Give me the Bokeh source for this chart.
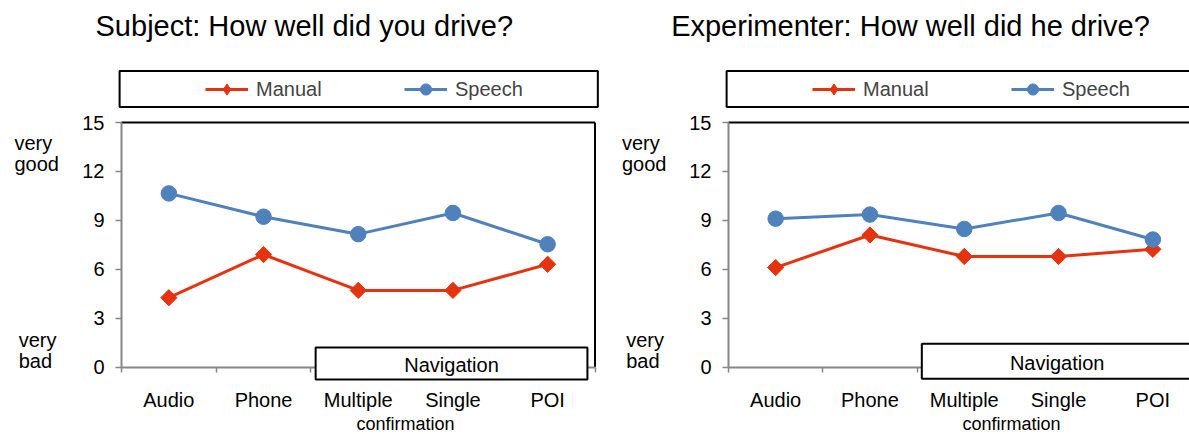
import math
from bokeh.plotting import figure
from bokeh.layouts import row
from bokeh.models import (ColumnDataSource, Range1d, LinearAxis, FixedTicker,
                          CustomJSTickFormatter, Legend, LegendItem)
from bokeh.core.properties import value
from bokeh.embed import file_html
from bokeh.resources import INLINE

# ---------------- data ----------------
categories = ["Audio", "Phone", "Multiple", "Single", "POI"]
series_names = ["Manual", "Speech"]
titles = ["Subject: How well did you drive?", "Experimenter: How well did he drive?"]
subject_manual = [4.25, 6.9, 4.7, 4.7, 6.3]
subject_speech = [10.65, 9.22, 8.15, 9.45, 7.53]
experimenter_manual = [6.1, 8.1, 6.78, 6.78, 7.22]
experimenter_speech = [9.1, 9.35, 8.47, 9.45, 7.82]
y_ticks = [0, 3, 6, 9, 12, 15]
scale_top_words = ["very", "good"]
scale_bottom_words = ["very", "bad"]
group_label = "Navigation"
sub_label = "confirmation"

# ---------------- style ----------------
FONT = "Liberation Sans"
RED = "#E5330F"
BLUE = "#4F81BD"
GREY = "#868686"
Y_MAX = 15
H = 434
ZERO_PX = 366.5      # canvas y of value 0
PPY = 16.3           # pixels per y unit
LEG_H = 28


def make_panel(title, manual, speech, axis_px, ppu, width, nav_y, legend_x):
    n = len(categories)
    p = figure(width=width, height=H,
               x_range=Range1d(-axis_px / ppu, (width - axis_px) / ppu),
               y_range=Range1d(-(H - ZERO_PX) / PPY, ZERO_PX / PPY),
               x_axis_location=None, y_axis_location=None,
               toolbar_location=None, output_backend="svg", min_border=0,
               outline_line_color=None, background_fill_color="white",
               border_fill_color="white")
    p.title.visible = False
    for g in p.grid:
        g.visible = False

    # axes
    yaxis = LinearAxis(fixed_location=0, bounds=(0, Y_MAX),
                       ticker=FixedTicker(ticks=y_ticks, minor_ticks=[]),
                       axis_line_color=GREY, axis_line_width=2,
                       major_tick_line_color=GREY, major_tick_line_width=1.5,
                       major_tick_out=6, major_tick_in=0,
                       minor_tick_line_color=None,
                       major_label_standoff=11,
                       major_label_text_font=FONT,
                       major_label_text_font_size="20px",
                       major_label_text_color="black")
    p.add_layout(yaxis, "left")

    centers = [i + 0.5 for i in range(n)]
    xaxis = LinearAxis(fixed_location=0, bounds=(0, n),
                       ticker=FixedTicker(ticks=centers, minor_ticks=list(range(n + 1))),
                       formatter=CustomJSTickFormatter(args=dict(labels=categories),
                                                       code="return labels[Math.floor(tick)] || ''"),
                       axis_line_color=GREY, axis_line_width=2,
                       major_tick_line_color=None, major_tick_out=0, major_tick_in=0,
                       minor_tick_line_color=GREY, minor_tick_line_width=1.5,
                       minor_tick_out=5, minor_tick_in=0,
                       major_label_standoff=17,
                       major_label_text_font=FONT,
                       major_label_text_font_size="20px",
                       major_label_text_color="black")
    p.add_layout(xaxis, "below")

    # frame top / right border
    p.segment(x0=[0, n], y0=[Y_MAX, 0], x1=[n, n], y1=[Y_MAX, Y_MAX],
              line_color="black", line_width=2)

    # legend box
    p.quad(left=[-0.02], right=[5.03], top=[18.16], bottom=[15.95],
           fill_color="white", line_color="black", line_width=2)

    # data
    src = ColumnDataSource(dict(x=centers, manual=manual, speech=speech))
    lm = p.line("x", "manual", source=src, line_color=RED, line_width=3)
    # diamond key for the legend (legend keys are drawn unrotated); it sits
    # hidden under the rotated squares below
    key_manual = p.scatter("x", "manual", source=src, marker="diamond", size=10,
                           fill_color=RED, line_color=RED)
    p.scatter("x", "manual", source=src, marker="square", angle=math.pi / 4,
              size=11.5, fill_color=RED, line_color=RED)
    ls = p.line("x", "speech", source=src, line_color=BLUE, line_width=3)
    ss = p.scatter("x", "speech", source=src, marker="circle", size=15.5,
                   fill_color=BLUE, line_color=BLUE)

    legend = Legend(items=[LegendItem(label=series_names[0], renderers=[lm, key_manual]),
                           LegendItem(label=series_names[1], renderers=[ls, ss])],
                    orientation="horizontal", location=(legend_x, H - 89 - LEG_H // 2),
                    padding=0, margin=0, spacing=0, glyph_width=43, glyph_height=LEG_H,
                    label_standoff=8, label_width=148, label_height=LEG_H,
                    label_text_font=FONT, label_text_font_size="20px",
                    border_line_color=None, background_fill_alpha=0)
    p.add_layout(legend)

    # title
    p.text(x=[1.93], y=[20.89], text=[title], text_align="center",
           text_baseline="middle", text_font=value(FONT),
           text_font_size="29px", text_color="black")

    # scale words
    p.text(x=[-1.13, -1.13], y=[13.74, 12.44], text=scale_top_words,
           text_align="left", text_baseline="middle", text_font=value(FONT),
           text_font_size="20px", text_color="black")
    p.text(x=[-1.085, -1.085], y=[1.64, 0.37], text=scale_bottom_words,
           text_align="left", text_baseline="middle", text_font=value(FONT),
           text_font_size="20px", text_color="black")

    # navigation group box
    nav_bottom, nav_top = nav_y
    p.quad(left=[2.05], right=[4.92], top=[nav_top], bottom=[nav_bottom],
           fill_color="white", line_color="black", line_width=2, level="overlay")
    p.text(x=[3.485], y=[(nav_top + nav_bottom) / 2 - 0.1], text=[group_label],
           text_align="center", text_baseline="middle", text_font=value(FONT),
           text_font_size="20px", text_color="black", level="overlay")

    # second line of the confirmation labels
    p.text(x=[3.0], y=[-3.52], text=[sub_label], text_align="center",
           text_baseline="middle", text_font=value(FONT),
           text_font_size="18px", text_color="black")
    return p


p1 = make_panel(titles[0], subject_manual, subject_speech,
                axis_px=121, ppu=94.7, width=606, nav_y=(-0.77, 1.19), legend_x=205)
p2 = make_panel(titles[1], experimenter_manual, experimenter_speech,
                axis_px=122, ppu=94.3, width=583, nav_y=(-0.72, 1.43), legend_x=206)

layout = row(p1, p2)
open("out.html", "w").write(file_html(layout, INLINE, "How well did you drive?"))
